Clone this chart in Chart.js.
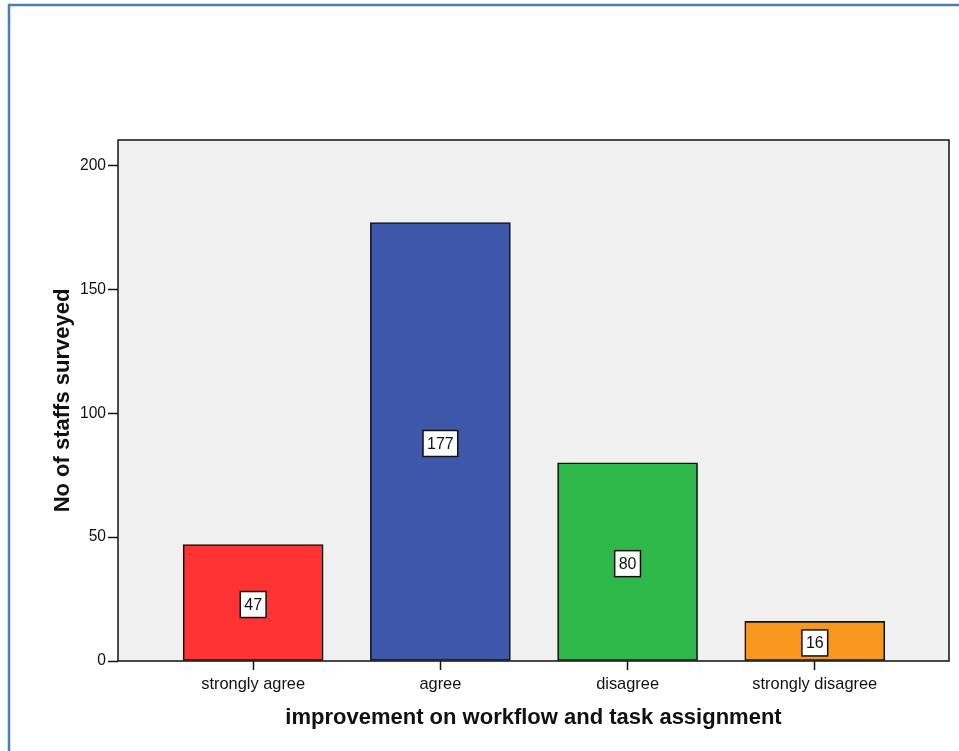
<!DOCTYPE html>
<html>
<head>
<meta charset="utf-8">
<script src="https://cdn.jsdelivr.net/npm/chart.js@4/dist/chart.umd.min.js"></script>
<style>
    html, body { margin: 0; padding: 0; background: #fff; }
    #wrap { width: 959px; height: 751px; position: relative; }
</style>
</head>
<body>
<div id="wrap"><canvas id="chart" width="959" height="751"></canvas></div>
<script>
    // 데이터
    var categories = ['strongly agree', 'agree', 'disagree', 'strongly disagree'];
    var staffCounts = [47, 177, 80, 16];
    var barColors = ['#ff3333', '#3d58ab', '#2eb84a', '#f7981f'];
    var yTicks = [0, 50, 100, 150, 200];

    var FONT = '"Liberation Sans", Arial, sans-serif';

    // 배경 + 프레임
    var framePlugin = {
        id: 'frame',
        beforeDraw: function(chart) {
            var ctx = chart.ctx;
            var a = chart.chartArea;
            ctx.save();
            ctx.fillStyle = '#fff';
            ctx.fillRect(0, 0, chart.width, chart.height);
            ctx.strokeStyle = '#4a7ebb';
            ctx.lineWidth = 2.5;
            ctx.strokeRect(9, 5, chart.width + 20, chart.height + 20);
            ctx.fillStyle = '#f0f0f0';
            ctx.fillRect(a.left, a.top, a.right - a.left, a.bottom - a.top);
            ctx.restore();
        },
        afterDatasetsDraw: function(chart) {
            var ctx = chart.ctx;
            var a = chart.chartArea;
            ctx.save();
            ctx.strokeStyle = '#111';
            ctx.lineWidth = 1.5;
            ctx.strokeRect(a.left, a.top, a.right - a.left, a.bottom - a.top);

            // 값 라벨 상자
            var meta = chart.getDatasetMeta(0);
            ctx.font = '16px ' + FONT;
            ctx.textAlign = 'center';
            ctx.textBaseline = 'middle';
            meta.data.forEach(function(bar, i) {
                var text = String(staffCounts[i]);
                var w = ctx.measureText(text).width + 8;
                var h = 26;
                var cy = (bar.y + bar.base) / 2 + 2;
                ctx.fillStyle = '#fff';
                ctx.fillRect(bar.x - w / 2, cy - h / 2, w, h);
                ctx.strokeStyle = '#111';
                ctx.lineWidth = 1.5;
                ctx.strokeRect(bar.x - w / 2, cy - h / 2, w, h);
                ctx.fillStyle = '#111';
                ctx.fillText(text, bar.x, cy + 1);
            });
            ctx.restore();
        }
    };

    new Chart(document.getElementById('chart'), {
        type: 'bar',
        data: {
            datasets: [{
                data: staffCounts.map(function(v, i) { return { x: i, y: v }; }),
                backgroundColor: barColors,
                borderColor: '#111',
                borderWidth: 1.6,
                borderSkipped: false,
                barThickness: 140
            }]
        },
        options: {
            responsive: false,
            animation: false,
            events: [],
            layout: {
                padding: { left: 0, top: 140, right: 10, bottom: 0 }
            },
            plugins: {
                legend: { display: false },
                tooltip: { enabled: false }
            },
            scales: {
                x: {
                    type: 'linear',
                    offset: false,
                    min: -0.722,
                    max: 3.717,
                    afterBuildTicks: function(scale) {
                        scale.ticks = categories.map(function(c, i) { return { value: i }; });
                    },
                    afterFit: function(scale) {
                        scale.height = 90;
                    },
                    grid: {
                        offset: false,
                        drawOnChartArea: false,
                        drawTicks: true,
                        tickLength: 9,
                        tickColor: '#111',
                        tickWidth: 1.5
                    },
                    border: { display: false },
                    ticks: {
                        padding: 5,
                        color: '#111',
                        maxRotation: 0,
                        autoSkip: false,
                        font: { family: FONT, size: 16.4 },
                        callback: function(value) {
                            return categories[value];
                        }
                    },
                    title: {
                        display: true,
                        text: 'improvement on workflow and task assignment',
                        color: '#111',
                        font: { family: FONT, size: 22, weight: 'bold' },
                        padding: { top: 0, bottom: 20 }
                    }
                },
                y: {
                    min: 0,
                    max: 210.3,
                    afterBuildTicks: function(scale) {
                        scale.ticks = yTicks.map(function(v) { return { value: v }; });
                    },
                    afterFit: function(scale) {
                        scale.width = 118;
                    },
                    grid: {
                        drawOnChartArea: false,
                        drawTicks: true,
                        tickLength: 10,
                        tickColor: '#111',
                        tickWidth: 1.5
                    },
                    border: { display: false },
                    ticks: {
                        padding: 2,
                        color: '#111',
                        font: { family: FONT, size: 15.6 }
                    },
                    title: {
                        display: true,
                        text: 'No of staffs surveyed',
                        color: '#111',
                        font: { family: FONT, size: 22, weight: 'bold' },
                        padding: { top: 50, bottom: 0 }
                    }
                }
            }
        },
        plugins: [framePlugin]
    });
</script>
</body>
</html>
